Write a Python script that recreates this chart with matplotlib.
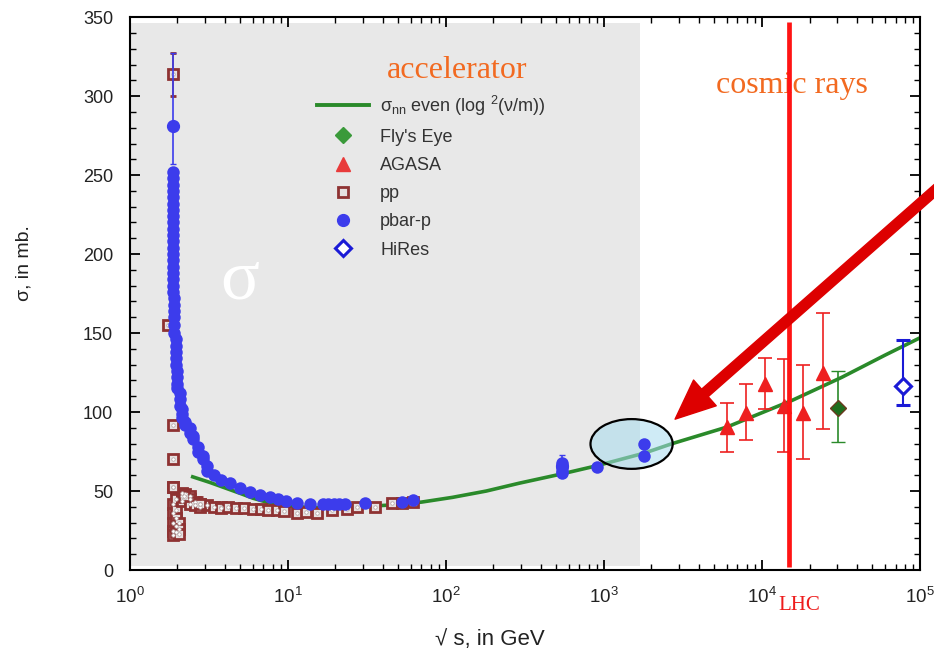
import matplotlib
matplotlib.use("Agg")
import matplotlib.pyplot as plt
from matplotlib.lines import Line2D
from matplotlib.patches import Ellipse, FancyArrowPatch
from matplotlib.ticker import MultipleLocator

plt.rcParams['font.family'] = ['Liberation Sans', 'DejaVu Sans']
plt.rcParams['mathtext.fontset'] = 'custom'
plt.rcParams['mathtext.rm'] = 'Liberation Sans'
plt.rcParams['mathtext.it'] = 'Liberation Sans:italic'

# fit curve sigma_nn (log^2(nu/m))
fit_x = [2.5, 3.2, 4.0, 5.0, 6.0, 7.7, 10, 13, 16, 25, 42, 70, 110, 180, 292, 550, 900,
         1800, 2700, 6000, 15600, 32000, 60000, 100000]
fit_y = [59, 55.5, 52, 48.5, 45.5, 42.4, 40.5, 39.8, 39.5, 39.8, 41, 43, 46, 50, 55, 61, 66,
         74, 80, 90.5, 107.5, 122, 136, 147]

# pbar-p
pbp_x = [1.87] * 20 + [1.9] * 6 + [1.95] * 5 + [2.0] * 4 + [2.08] * 3 + [2.15] * 3 + \
        [2.25, 2.25, 2.4, 2.4, 2.5, 2.5, 2.7, 2.7, 2.9, 2.9, 3.1, 3.1, 3.4, 3.8, 4.3, 5.0,
         5.75, 6.7, 7.7, 8.7, 9.8, 11.4, 13.8, 16.6, 18, 19.5, 21, 23, 30.6, 52.6, 61.7,
         546, 546, 546, 546, 900, 1800, 1800]
pbp_y = [252, 248, 244, 240, 236, 232, 228, 224, 220, 216, 212, 208, 204, 200, 196, 192,
         188, 184, 180, 176,
         172, 168, 164, 160, 155, 150,
         146, 142, 138, 134, 130,
         126, 122, 118, 115,
         112, 108, 104,
         102, 99, 96,
         94, 92, 90, 87, 85, 83, 78, 75, 72, 70, 66, 63, 60, 57, 55, 52,
         49.5, 47.5, 46, 45, 44, 42.5, 42, 42, 42, 42, 42, 42, 42.4, 43, 44.3,
         61.5, 63, 65, 68, 65, 72, 80]
pbp_top_x = [1.87, 546]
pbp_top_y = [281, 66]
pbp_top_lo = [257, 60]
pbp_top_hi = [327, 73]

# pp
pp_x = [1.74, 1.87, 1.87, 1.87, 1.87, 1.87, 1.87, 1.87, 1.87,
        1.95, 1.95, 1.95, 1.95, 1.95, 2.05, 2.05, 2.05,
        2.15, 2.15, 2.15, 2.25, 2.25, 2.4, 2.4, 2.4, 2.6, 2.6, 2.8, 2.8, 3.1, 3.4,
        3.8, 3.8, 4.2, 4.7, 5.3, 6.0, 6.8, 7.5, 8.5, 9.5, 11.4, 13, 15.3, 19,
        23.6, 27.4, 35.5, 45.5, 52.6, 62]
pp_y = [155, 92, 70, 52.5, 42, 36, 30, 25, 22,
        45, 38, 33, 28, 24, 30, 26, 23,
        44, 47, 49, 46, 48, 47, 45, 42, 43, 41, 42, 40, 41, 40,
        40, 39, 40, 39, 39, 38.5, 38.5, 38, 38, 37.5, 36, 37, 36, 38,
        38.6, 40, 40, 42.4, 42.4, 43]
pp_err_x = [1.87, 1.87, 2.2, 2.8]
pp_err_y = [314, 52.5, 47, 42]
pp_err_lo = [300, 49, 43, 38]
pp_err_hi = [327, 56, 51, 46]

# cosmic ray experiments
agasa_x = [6000, 7940, 10500, 13800, 18200, 24300]
agasa_y = [90.5, 99.5, 118, 104, 99.5, 124.5]
agasa_lo = [75, 82, 102, 75, 70, 89]
agasa_hi = [105.5, 118, 134, 133.5, 130, 163]

fly_x = [30200]
fly_y = [102.5]
fly_lo = [81]
fly_hi = [126]

hires_x = [77900]
hires_y = [116.5]
hires_lo = [104.5]
hires_hi = [145.6]

lhc_x = 14800
accel_edge = 1700

blue = '#3c3cec'
brown = '#8e3232'
red = '#ee2020'
green = '#2a8a2a'

fig = plt.figure(figsize=(9.34, 6.59), dpi=100)
ax = fig.add_axes([0.139, 0.135, 0.846, 0.839])

ax.set_xscale('log')
ax.set_xlim(1, 1e5)
ax.set_ylim(0, 350)

ax.axvspan(1.0, accel_edge, ymin=0.008, ymax=0.989, color='#e8e8e8', lw=0, zorder=0)

ax.plot(fit_x, fit_y, color=green, lw=2.6, zorder=2, solid_joinstyle='round')

ell = Ellipse((0.635, 0.228), 0.104, 0.09, transform=ax.transAxes,
              facecolor='#a8dcef', alpha=0.55, edgecolor='none', zorder=2.5)
ax.add_patch(ell)
ax.add_patch(Ellipse((0.635, 0.228), 0.104, 0.09, transform=ax.transAxes,
                     facecolor='none', edgecolor='black', lw=1.6, zorder=5))

def errs(y, lo, hi):
    return [[a - b for a, b in zip(y, lo)], [b - a for a, b in zip(y, hi)]]

# pp (square with a light dot in the middle)
ax.errorbar(pp_err_x, pp_err_y, yerr=errs(pp_err_y, pp_err_lo, pp_err_hi), fmt='s',
            color=brown, mfc='#e6e0e0', mec=brown, mew=2, ms=7.5, capsize=2.5,
            elinewidth=1.2, zorder=3)
ax.plot(pp_x, pp_y, 's', mfc='#e6e0e0', mec=brown, mew=2, ms=7.5, zorder=3)
ax.plot(pp_x + pp_err_x, pp_y + pp_err_y, 'o', mfc='white', mec='#b0a0a0', mew=0.5,
        ms=2.5, zorder=3.1)

# pbar-p
ax.errorbar(pbp_top_x, pbp_top_y, yerr=errs(pbp_top_y, pbp_top_lo, pbp_top_hi), fmt='o',
            color=blue, ms=8.5, capsize=2.5, elinewidth=1.2, zorder=3.5)
ax.plot(pbp_x, pbp_y, 'o', color=blue, ms=9, mec='none', zorder=3.5)

# AGASA
ax.errorbar(agasa_x, agasa_y, yerr=errs(agasa_y, agasa_lo, agasa_hi), fmt='^',
            color=red, ms=10, capsize=5, elinewidth=1.2, capthick=1.2, zorder=4)
# Fly's Eye
ax.errorbar(fly_x, fly_y, yerr=errs(fly_y, fly_lo, fly_hi), fmt='D', color=green,
            mfc='#1e6e1e', mec='#6b3a1e', ms=8, capsize=5, elinewidth=1.2, zorder=4)
# HiRes
ax.errorbar(hires_x, hires_y, yerr=errs(hires_y, hires_lo, hires_hi), fmt='D',
            color='#1a1ad6', mfc='white', mec='#1a1ad6', mew=2.2, ms=8, capsize=5,
            elinewidth=1.5, capthick=1.5, zorder=4)

# LHC energy
ax.vlines(lhc_x, 2, 347, color='#ff1414', lw=3.4, zorder=4.5)

# texts (pixel positions)
ax.text(457, 589, 'accelerator', transform=None, ha='center', va='center',
        family='Liberation Serif', fontsize=23, color='#f26a21')
ax.text(792, 573, 'cosmic rays', transform=None, ha='center', va='center',
        family='Liberation Serif', fontsize=23, color='#f26a21')
ax.text(240, 378, 'σ', transform=None, ha='center', va='center',
        family='Liberation Serif', fontsize=52, color='white', zorder=1)
ax.text(799, 54, 'LHC', transform=None, ha='center', va='center',
        family='Liberation Serif', fontsize=15, color='#ee1c1c', clip_on=False)

fig.text(490, 19, '√ s, in GeV', transform=None, ha='center', va='center',
         fontsize=16, color='#222222')
fig.text(24, 396, 'σ, in mb.', transform=None, ha='center', va='center',
         rotation=90, fontsize=14, color='#222222')

ax.yaxis.set_major_locator(MultipleLocator(50))
ax.yaxis.set_minor_locator(MultipleLocator(10))
ax.tick_params(which='both', direction='in', top=True, right=True, colors='black',
               labelcolor='#222222')
ax.tick_params(which='major', length=7, width=1.3)
ax.tick_params(which='minor', length=4, width=1.0)
ax.tick_params(axis='y', pad=12, labelsize=13)
ax.tick_params(axis='x', pad=12, labelsize=13.5)
for s in ax.spines.values():
    s.set_linewidth(1.5)

# legend
handles = [
    Line2D([], [], color=green, lw=2.8),
    Line2D([], [], ls='none', marker='D', color='#3a9a3a', ms=8.5),
    Line2D([], [], ls='none', marker='^', color='#e83a3a', ms=10),
    Line2D([], [], ls='none', marker='s', mfc='#e6e0e0', mec=brown, mew=2, ms=7.5),
    Line2D([], [], ls='none', marker='o', color=blue, ms=8.5),
    Line2D([], [], ls='none', marker='D', mfc='white', mec='#1a1ad6', mew=2.2, ms=8),
]
labels = ['σ$_{\\rm nn}$ even (log $^{2}$(ν/m))', "Fly's Eye", 'AGASA', 'pp',
          'pbar-p', 'HiRes']
leg = ax.legend(handles, labels, loc='upper left', bbox_to_anchor=(0.237, 0.862),
                frameon=False, fontsize=13, handlelength=2.9, handletextpad=0.6,
                labelspacing=0.62, borderpad=0, borderaxespad=0)
for t in leg.get_texts():
    t.set_color('#333333')

# arrow pointing to the Tevatron points
arrow = FancyArrowPatch((965, 495), (673, 238), transform=None,
                        arrowstyle='simple,head_length=2.2,head_width=1.9,tail_width=0.55',
                        mutation_scale=13, color='#dd0000', zorder=6)
fig.patches.append(arrow)

fig.savefig('out.png', dpi=100)
